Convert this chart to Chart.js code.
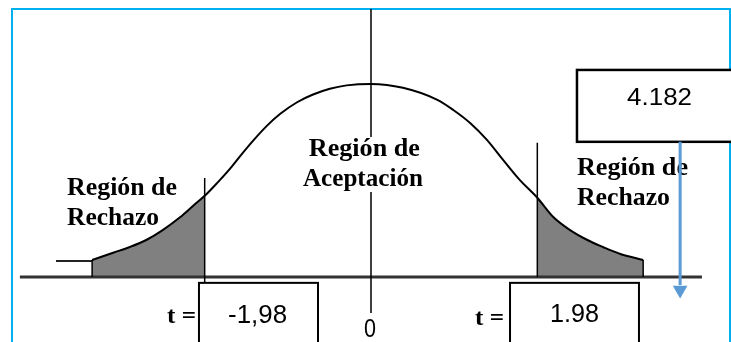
<!DOCTYPE html>
<html>
<head>
<meta charset="utf-8">
<script src="https://cdn.jsdelivr.net/npm/chart.js@4/dist/chart.umd.min.js"></script>
<style>
html,body{margin:0;padding:0;background:#fff;}
#wrap{width:731px;height:342px;position:relative;}
</style>
</head>
<body>
<div id="wrap"><canvas id="c" width="731" height="342"></canvas></div>
<script>
// ---- data (t values on x, density-like heights on y) ----
const curveT = [-3.32,-3.07,-2.87,-2.67,-2.48,-2.27,-2.12,-1.98,-1.83,-1.68,-1.56,-1.40,-1.24,-1.08,-0.88,-0.69,-0.49,-0.29,0,0.38,0.79,0.98,1.18,1.38,1.57,1.77,1.98,2.17,2.37,2.57,2.76,2.96,3.24];
const curveV = [0.035,0.050,0.062,0.077,0.097,0.124,0.147,0.168,0.195,0.224,0.250,0.283,0.313,0.338,0.362,0.378,0.390,0.397,0.400,0.392,0.367,0.346,0.319,0.284,0.243,0.201,0.164,0.124,0.097,0.077,0.062,0.048,0.035];
const criticalT = [-1.98, 1.98];
const criticalLabels = ['-1,98', '1.98'];
const criticalLineTop = [0.205, 0.278];
const centerTick = [0];
const centerLabel = ['0'];
const statValue = ['4.182'];
const statArrowT = [3.68];
const tailStartT = [-3.75];
const tailLevel = [0.033];
const baselineRange = [-4.18, 3.94];

const pts = (ts, vs) => ts.map((t, i) => ({x: t, y: vs[i]}));
const leftIdx = curveT.map((t,i)=>i).filter(i => curveT[i] <= criticalT[0]);
const rightIdx = curveT.map((t,i)=>i).filter(i => curveT[i] >= criticalT[1]);
const leftShade = leftIdx.map(i => ({x: curveT[i], y: curveV[i]}));
const rightShade = rightIdx.map(i => ({x: curveT[i], y: curveV[i]}));
const last = curveT.length - 1;

const lineDs = (data, color, width, order, extra) => Object.assign({
  data, showLine: true, borderColor: color, borderWidth: width, pointRadius: 0, pointHoverRadius: 0,
  fill: false, order, clip: false
}, extra || {});

const datasets = [
  lineDs(pts(curveT, curveV), '#000', 2, 0, {cubicInterpolationMode: 'monotone'}),
  // arrow from statistic box
  lineDs([{x: statArrowT[0], y: 0.280}, {x: statArrowT[0], y: -0.0166}], '#5b9bd5', 3, -2),
  {data: [{x: statArrowT[0], y: -0.027}], showLine: false, pointStyle: 'triangle', rotation: 180,
   pointRadius: 8.5, pointHoverRadius: 8.5, backgroundColor: '#5b9bd5', borderColor: '#5b9bd5', borderWidth: 0, order: -2, clip: false},
  // critical lines
  lineDs([{x: criticalT[0], y: criticalLineTop[0]}, {x: criticalT[0], y: -0.0124}], '#000', 1.5, 1),
  lineDs([{x: criticalT[1], y: criticalLineTop[1]}, {x: criticalT[1], y: 0}], '#000', 1.5, 1),
  // center line (split around the label)
  lineDs([{x: centerTick[0], y: 0.5556}, {x: centerTick[0], y: 0.290}], '#000', 1.5, 1),
  lineDs([{x: centerTick[0], y: 0.176}, {x: centerTick[0], y: -0.075}], '#000', 1.5, 1),
  // tail edges
  lineDs([{x: curveT[0], y: 0}, {x: curveT[0], y: curveV[0]}], '#000', 1.5, 1),
  lineDs([{x: curveT[last], y: 0}, {x: curveT[last], y: curveV[last]}], '#000', 1.5, 1),
  lineDs([{x: tailStartT[0], y: tailLevel[0]}, {x: curveT[0], y: tailLevel[0]}], '#222', 2, 1),
  // baseline
  lineDs([{x: baselineRange[0], y: 0}, {x: baselineRange[1], y: 0}], '#333', 3, 2),
  // shaded tails
  {data: leftShade, showLine: true, borderWidth: 0, pointRadius: 0, pointHoverRadius: 0, fill: 'origin',
   backgroundColor: '#808080', cubicInterpolationMode: 'monotone', order: 5},
  {data: rightShade, showLine: true, borderWidth: 0, pointRadius: 0, pointHoverRadius: 0, fill: 'origin',
   backgroundColor: '#808080', cubicInterpolationMode: 'monotone', order: 5}
];

const SERIF = 'bold 26px "Liberation Serif", "Times New Roman", serif';
const SANS = '25px "Liberation Sans", Arial, sans-serif';
const labels = [
  {text: 'Región de', t: -3.619, v: 0.170, w: 110, font: SERIF},
  {text: 'Rechazo', t: -3.619, v: 0.108, w: 92, font: SERIF},
  {text: 'Región de', t: -0.74, v: 0.250, w: 111, font: SERIF},
  {text: 'Aceptación', t: -0.810, v: 0.189, w: 120, font: SERIF},
  {text: 'Región de', t: 2.452, v: 0.211, w: 111, font: SERIF},
  {text: 'Rechazo', t: 2.452, v: 0.149, w: 93, font: SERIF},
  {text: 't =', t: -2.429, v: -0.095, w: 29, font: 'bold 23px "Liberation Serif", serif'},
  {text: 't =', t: 1.238, v: -0.0995, w: 29, font: 'bold 23px "Liberation Serif", serif'},
  {text: criticalLabels[0], t: -1.702, v: -0.095, w: 59, font: SANS},
  {text: criticalLabels[1], t: 2.131, v: -0.093, w: 49, font: SANS},
  {text: statValue[0], t: 3.048, v: 0.3566, w: 65, font: '24px "Liberation Sans", Arial, sans-serif'},
  {text: centerLabel[0], t: -0.083, v: -0.1244, w: 12, font: '25px "Liberation Sans", Arial, sans-serif'}
];
const boxes = [
  {t0: -2.048, t1: -0.631, v0: -0.0124, v1: -0.15, lw: 2},
  {t0: 1.655, t1: 3.190, v0: -0.0124, v1: -0.15, lw: 2},
  {t0: 2.452, t1: 4.31, v0: 0.429, v1: 0.280, lw: 2.5}
];
const frame = {t0: -4.274, t1: 4.274, vTop: 0.5556};

const annotPlugin = {
  id: 'annot',
  beforeDatasetsDraw(chart) {
    const {ctx, scales: {x, y}} = chart;
    const X = v => x.getPixelForValue(v), Y = v => y.getPixelForValue(v);
    ctx.save();
    // frame
    ctx.strokeStyle = '#00b0f0';
    ctx.lineWidth = 2;
    ctx.beginPath();
    ctx.moveTo(Math.round(X(frame.t0)), chart.height + 2);
    ctx.lineTo(Math.round(X(frame.t0)), Y(frame.vTop));
    ctx.lineTo(Math.round(X(frame.t1)), Y(frame.vTop));
    ctx.lineTo(Math.round(X(frame.t1)), chart.height + 2);
    ctx.stroke();
    // boxes
    boxes.forEach(b => {
      const l = X(b.t0), r = X(b.t1), t = Y(b.v0), btm = Y(b.v1);
      ctx.fillStyle = '#fff';
      ctx.fillRect(l, t, r - l, btm - t);
      ctx.strokeStyle = '#000';
      ctx.lineWidth = b.lw;
      ctx.strokeRect(l, t, r - l, btm - t);
    });
    // labels
    ctx.fillStyle = '#000';
    ctx.textBaseline = 'alphabetic';
    ctx.textAlign = 'left';
    labels.forEach(lb => {
      ctx.font = lb.font;
      const w = ctx.measureText(lb.text).width;
      ctx.save();
      ctx.translate(X(lb.t), Y(lb.v));
      ctx.scale(lb.w / w, 1);
      ctx.fillText(lb.text, 0, 0);
      ctx.restore();
    });
    ctx.restore();
  }
};

new Chart(document.getElementById('c'), {
  type: 'scatter',
  data: {datasets},
  options: {
    responsive: false,
    devicePixelRatio: 1,
    animation: false,
    events: [],
    layout: {padding: 0, autoPadding: false},
    plugins: {legend: {display: false}, tooltip: {enabled: false}},
    scales: {
      x: {type: 'linear', min: -4.4167, max: 4.2857, display: false},
      y: {type: 'linear', min: -0.135, max: 0.574, display: false}
    }
  },
  plugins: [annotPlugin]
});
</script>
</body>
</html>
